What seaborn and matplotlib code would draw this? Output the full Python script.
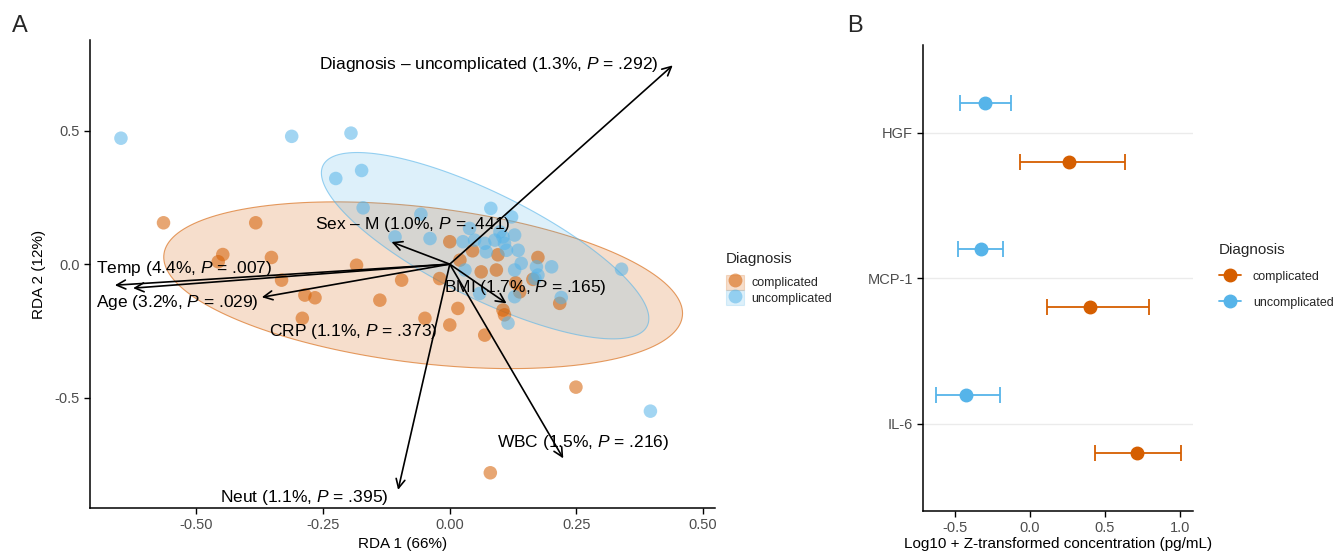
import numpy as np
import pandas as pd
import matplotlib
matplotlib.use("Agg")
import matplotlib.pyplot as plt
from matplotlib.patches import Patch, Polygon
from matplotlib.lines import Line2D
from matplotlib.legend_handler import HandlerTuple
import seaborn as sns

# ---- Panel A: RDA site scores ----
comp_x = [-0.565, -0.383, -0.448, -0.457, -0.352, -0.332, -0.184, -0.286, -0.266, -0.291,
          -0.138, -0.049, -0.095, 0.000, 0.020, 0.062, 0.092, -0.020, 0.016, 0.000,
          0.069, 0.105, 0.108, 0.174, 0.138, 0.217, 0.164, 0.249, 0.080,
          0.045, 0.095, 0.130]
comp_y = [0.155, 0.155, 0.036, 0.009, 0.025, -0.060, -0.004, -0.116, -0.126, -0.203,
          -0.135, -0.203, -0.060, 0.084, 0.015, -0.029, -0.022, -0.054, -0.166, -0.228,
          -0.266, -0.172, -0.190, 0.025, -0.104, -0.147, -0.057, -0.461, -0.782,
          0.050, 0.035, -0.070]
uncomp_x = [-0.649, -0.312, -0.195, -0.225, -0.174, -0.171, -0.057, 0.081, 0.122, 0.339,
            0.396, -0.108, -0.039, 0.039, 0.026, 0.049, 0.069, 0.089, 0.099, 0.108,
            0.072, 0.030, 0.059, 0.115, 0.105, 0.128, 0.112, 0.135, 0.141, 0.128,
            0.171, 0.174, 0.201, 0.168, 0.128, 0.220]
uncomp_y = [0.472, 0.479, 0.491, 0.321, 0.351, 0.211, 0.187, 0.209, 0.177, -0.019,
            -0.551, 0.102, 0.096, 0.134, 0.084, 0.090, 0.078, 0.090, 0.121, 0.078,
            0.046, -0.022, -0.110, -0.221, 0.102, 0.109, 0.052, 0.052, 0.003, -0.022,
            -0.010, -0.041, -0.010, -0.054, -0.122, -0.125]

# biplot arrows (constraint scores)
arrow_names = ["Diagnosis \u2013 uncomplicated", "Sex \u2013 M", "Temp", "Age", "CRP",
               "BMI", "WBC", "Neut"]
arrow_pct = ["1.3%", "1.0%", "4.4%", "3.2%", "1.1%", "1.7%", "1.5%", "1.1%"]
arrow_p = [".292", ".441", ".007", ".029", ".373", ".165", ".216", ".395"]
arrow_x = [0.440, -0.115, -0.661, -0.625, -0.371, 0.112, 0.224, -0.102]
arrow_y = [0.745, 0.083, -0.079, -0.090, -0.124, -0.147, -0.728, -0.846]
# repelled label placement
label_x = [0.077, -0.073, -0.525, -0.537, -0.190, 0.150, 0.264, -0.288]
label_y = [0.750, 0.150, -0.015, -0.142, -0.251, -0.086, -0.667, -0.873]

# ---- Panel B: cytokine means with CI ----
cytokines = ["IL-6", "MCP-1", "HGF"]
comp_mean = [0.715, 0.40, 0.26]
comp_lo = [0.435, 0.11, -0.07]
comp_hi = [1.005, 0.79, 0.63]
uncomp_mean = [-0.43, -0.33, -0.30]
uncomp_lo = [-0.63, -0.48, -0.47]
uncomp_hi = [-0.20, -0.18, -0.13]

ORANGE = "#D55E00"
BLUE = "#56B4E9"
GREY = "#4D4D4D"

sns.set_theme(style="white")
plt.rcParams["font.family"] = ["Liberation Sans", "DejaVu Sans"]
plt.rcParams["mathtext.fontset"] = "custom"
plt.rcParams["mathtext.it"] = "Liberation Sans:italic"
plt.rcParams["mathtext.rm"] = "Liberation Sans"


def trob_ellipse(x, y, level=0.95, nu=5, n_pts=200):
    # like stat_ellipse(type = "t"): MASS::cov.trob + F scaling
    X = np.column_stack([x, y])
    n, p = X.shape
    w = np.ones(n)
    loc = X.mean(0)
    for _ in range(200):
        D = X - loc
        S = (w[:, None] * D).T @ D / w.sum()
        Q = np.einsum("ij,jk,ik->i", D, np.linalg.inv(S), D)
        w_new = (nu + p) / (nu + Q)
        loc = (w_new[:, None] * X).sum(0) / w_new.sum()
        done = np.all(np.abs(w_new - w) < 1e-6)
        w = w_new
        if done:
            break
    D = X - loc
    cov = (w[:, None] * D).T @ D / n
    dfd = n - 1
    fq = (dfd / 2) * ((1 - level) ** (-2 / dfd) - 1)
    radius = np.sqrt(2 * fq)
    t = np.linspace(0, 2 * np.pi, n_pts)
    circle = np.column_stack([np.cos(t), np.sin(t)])
    chol = np.linalg.cholesky(cov).T
    return loc + radius * circle @ chol


df = pd.DataFrame({
    "RDA1": comp_x + uncomp_x,
    "RDA2": comp_y + uncomp_y,
    "Diagnosis": ["complicated"] * len(comp_x) + ["uncomplicated"] * len(uncomp_x),
})

fig = plt.figure(figsize=(13.36, 5.52), dpi=100)
axA = fig.add_axes([0.0674, 0.0797, 0.4676, 0.8478])
axB = fig.add_axes([0.691, 0.0743, 0.202, 0.8437])

# ellipses
for xs, ys, col in [(comp_x, comp_y, ORANGE), (uncomp_x, uncomp_y, BLUE)]:
    ell = trob_ellipse(np.array(xs), np.array(ys))
    axA.add_patch(Polygon(ell, closed=True, facecolor=col, alpha=0.2, edgecolor="none", zorder=1))
    axA.add_patch(Polygon(ell, closed=True, facecolor="none", edgecolor=col, alpha=0.6, lw=0.8, zorder=1))

sns.scatterplot(data=df, x="RDA1", y="RDA2", hue="Diagnosis",
                palette={"complicated": ORANGE, "uncomplicated": BLUE},
                s=95, alpha=0.55, edgecolor="none", ax=axA, legend=False, zorder=2)

for i in range(len(arrow_names)):
    axA.annotate("", xy=(arrow_x[i], arrow_y[i]), xytext=(0, 0),
                 arrowprops=dict(arrowstyle="->", lw=1.2, color="black",
                                 shrinkA=0, shrinkB=0, mutation_scale=16),
                 zorder=3)
    txt = f"{arrow_names[i]} ({arrow_pct[i]}, $\\mathit{{P}}$ = {arrow_p[i]})"
    axA.text(label_x[i], label_y[i], txt, ha="center", va="center", fontsize=12.5,
             color="black", zorder=4)

axA.set_xlim(-0.71, 0.523)
axA.set_ylim(-0.914, 0.84)
axA.set_xticks([-0.5, -0.25, 0, 0.25, 0.5])
axA.set_xticklabels(["-0.50", "-0.25", "0.00", "0.25", "0.50"])
axA.set_yticks([-0.5, 0, 0.5])
axA.set_yticklabels(["-0.5", "0.0", "0.5"])
axA.set_xlabel("RDA 1 (66%)", fontsize=11, color="black", labelpad=3)
axA.set_ylabel("RDA 2 (12%)", fontsize=11, color="black", labelpad=6)
sns.despine(ax=axA)

handlesA = [(Patch(facecolor=ORANGE, alpha=0.2, edgecolor=ORANGE, lw=0.8),
             Line2D([], [], marker="o", ls="", color=ORANGE, alpha=0.55, markersize=10, markeredgewidth=0)),
            (Patch(facecolor=BLUE, alpha=0.2, edgecolor=BLUE, lw=0.8),
             Line2D([], [], marker="o", ls="", color=BLUE, alpha=0.55, markersize=10, markeredgewidth=0))]
legA = axA.legend(handlesA, ["complicated", "uncomplicated"], title="Diagnosis",
                  handler_map={tuple: HandlerTuple(ndivide=1, pad=0)},
                  loc="center left", bbox_to_anchor=(1.0096, 0.49), borderaxespad=0,
                  frameon=False, fontsize=9, title_fontsize=11, handlelength=1.45,
                  handleheight=1.5, handletextpad=0.6, labelspacing=0.0)
legA._legend_box.align = "left"
legA._legend_box.sep = 6

# ---- Panel B ----
for i, name in enumerate(cytokines):
    yc = i + 1
    axB.errorbar([comp_mean[i]], [yc - 0.2],
                 xerr=[[comp_mean[i] - comp_lo[i]], [comp_hi[i] - comp_mean[i]]],
                 fmt="o", color=ORANGE, markersize=9, capsize=6, elinewidth=1.3,
                 capthick=1.3, zorder=3)
    axB.errorbar([uncomp_mean[i]], [yc + 0.2],
                 xerr=[[uncomp_mean[i] - uncomp_lo[i]], [uncomp_hi[i] - uncomp_mean[i]]],
                 fmt="o", color=BLUE, markersize=9, capsize=6, elinewidth=1.3,
                 capthick=1.3, zorder=3)

axB.set_ylim(0.4, 3.6)
axB.set_xlim(-0.713, 1.087)
axB.set_yticks([1, 2, 3])
axB.set_yticklabels(cytokines)
axB.set_xticks([-0.5, 0, 0.5, 1.0])
axB.set_xticklabels(["-0.5", "0.0", "0.5", "1.0"])
axB.grid(axis="y", color="#EBEBEB", lw=1.0)
axB.grid(axis="x", visible=False)
axB.set_axisbelow(True)
axB.set_xlabel("Log10 + Z-transformed concentration (pg/mL)", fontsize=11, color="black", labelpad=1)
axB.set_ylabel("")
sns.despine(ax=axB)

handlesB = [Line2D([], [], marker="o", color=ORANGE, markersize=9, lw=1.3),
            Line2D([], [], marker="o", color=BLUE, markersize=9, lw=1.3)]
legB = axB.legend(handlesB, ["complicated", "uncomplicated"], title="Diagnosis",
                  loc="center left", bbox_to_anchor=(1.078, 0.505), borderaxespad=0,
                  frameon=False, fontsize=9, title_fontsize=11, handlelength=1.75,
                  handletextpad=0.95, labelspacing=1.1)
legB._legend_box.align = "left"

for ax in (axA, axB):
    for sp in ("left", "bottom"):
        ax.spines[sp].set_color("black")
        ax.spines[sp].set_linewidth(1.1)
    ax.tick_params(axis="both", which="both", direction="out", length=4, width=1.0,
                   color="black", labelsize=10.5, labelcolor=GREY, bottom=True, left=True)

fig.text(0.015, 0.952, "A", fontsize=17, ha="center", va="center")
fig.text(0.64, 0.952, "B", fontsize=17, ha="center", va="center")

fig.savefig("out.png", dpi=100)
